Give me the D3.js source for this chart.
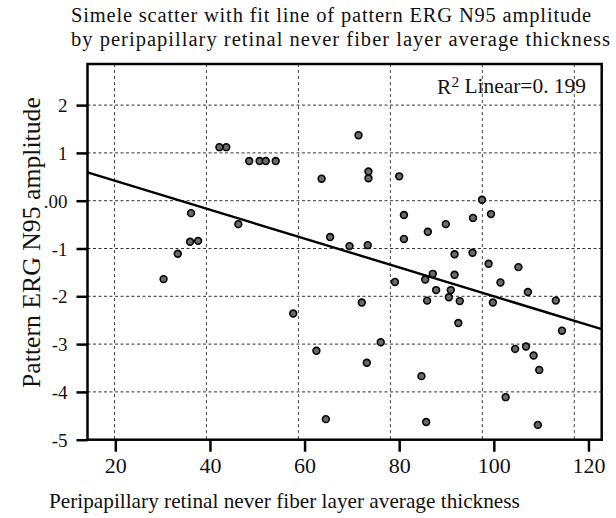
<!DOCTYPE html>
<html>
<head>
<meta charset="utf-8">
<script src="https://cdn.jsdelivr.net/npm/d3@7"></script>
<style>
  html, body { margin: 0; padding: 0; background: #fff; }
  svg { display: block; }
  text { font-family: "Liberation Serif", "Times New Roman", Times, serif; fill: #111; }
</style>
</head>
<body>
<svg id="chart" width="616" height="518"></svg>
<script>
// ---- data ----
const thickness = [30.2, 33.2, 35.8, 37.5, 36.0, 42.0, 43.45, 46.0, 48.3, 50.5,
  51.8, 53.9, 57.6, 62.5, 63.6, 64.5, 65.4, 69.5, 71.4, 72.1,
  73.35, 73.15, 73.5, 73.5, 76.1, 79.1, 80.0, 81.0, 81.0, 84.7,
  85.5, 85.7, 85.9, 86.05, 87.1, 87.8, 89.85, 90.5, 90.9, 91.7,
  91.7, 92.5, 92.8, 95.5, 95.6, 97.5, 98.9, 99.4, 99.8, 101.4,
  102.5, 104.5, 105.2, 106.8, 107.2, 108.4, 109.3, 109.6, 113.1, 114.4];
const amplitude = [-1.64, -1.11, -0.86, -0.84, -0.26, 1.12, 1.12, -0.49, 0.83, 0.83,
  0.83, 0.83, -2.36, -3.14, 0.46, -4.57, -0.76, -0.95, 1.37, -2.13,
  -0.93, -3.39, 0.61, 0.47, -2.96, -1.70, 0.51, -0.30, -0.80, -3.67,
  -1.65, -4.63, -2.09, -0.65, -1.53, -1.87, -0.49, -2.02, -1.87, -1.12,
  -1.55, -2.56, -2.10, -1.09, -0.36, 0.02, -1.32, -0.28, -2.13, -1.71,
  -4.11, -3.10, -1.39, -3.05, -1.91, -3.24, -4.69, -3.54, -2.09, -2.72];
const fitIntercept = 1.02;
const fitSlope = -0.0302;
const xTicks = [20, 40, 60, 80, 100, 120];
const yTicks = [2, 1, 0, -1, -2, -3, -4, -5];
const yTickLabels = ["2", "1", ".00", "-1", "-2", "-3", "-4", "-5"];
const titleLines = ["Simele scatter with fit line of pattern ERG N95 amplitude",
  "by peripapillary retinal never fiber layer average thickness"];
const xTitle = "Peripapillary retinal never fiber layer average thickness";
const yTitle = "Pattern ERG N95 amplitude";
const r2Value = "0. 199";

// ---- layout ----
const svg = d3.select("#chart");
const pLeft = 87.5, pRight = 601.7, pTop = 64, pBottom = 439.7;
const x = d3.scaleLinear().domain([14.12, 122.8]).range([pLeft, pRight]);
const y = d3.scaleLinear().domain([-5, 2.86]).range([pBottom, pTop]);
// the reference's vertical grid is drawn on a slightly compressed scale
const xGrid = d3.scaleLinear().domain([20, 120]).range([114.5, 574.3]);

// size a text so that its rendered length matches a target width
function fitWidth(sel, base, target) {
  sel.style("font-size", base + "px");
  const w = sel.node().getComputedTextLength();
  if (w > 0) sel.style("font-size", (base * target / w).toFixed(2) + "px");
  return sel;
}
// keep a glyph size, spread the letters slightly to reach a target width
function fitSpacing(sel, size, target) {
  sel.style("font-size", size + "px").style("letter-spacing", "0px");
  const w = sel.node().getComputedTextLength();
  const n = sel.text().length;
  if (w > 0 && n > 1) sel.style("letter-spacing", ((target - w) / n).toFixed(3) + "px");
  return sel;
}

// grid
const grid = svg.append("g");
grid.selectAll("line.h").data(yTicks.filter(d => d > -5)).join("line")
  .attr("class", "h")
  .attr("x1", pLeft).attr("x2", pRight)
  .attr("y1", d => y(d)).attr("y2", d => y(d))
  .attr("stroke", "#333").attr("stroke-width", 1).attr("stroke-dasharray", "3,2.5");
grid.selectAll("line.v").data(xTicks).join("line")
  .attr("class", "v")
  .attr("x1", d => xGrid(d)).attr("x2", d => xGrid(d))
  .attr("y1", pTop).attr("y2", pBottom)
  .attr("stroke", "#333").attr("stroke-width", 0.9).attr("stroke-dasharray", "3,3");

// fit line
const xd = x.domain();
svg.append("line")
  .attr("x1", x(xd[0])).attr("y1", y(fitIntercept + fitSlope * xd[0]))
  .attr("x2", x(xd[1])).attr("y2", y(fitIntercept + fitSlope * xd[1]))
  .attr("stroke", "#000").attr("stroke-width", 2.4);

// points
svg.append("g").selectAll("circle").data(thickness).join("circle")
  .attr("cx", d => x(d)).attr("cy", (d, i) => y(amplitude[i]))
  .attr("r", 3.4)
  .attr("fill", "#6a6a6a").attr("stroke", "#000").attr("stroke-width", 1.6);

// frame
svg.append("rect").attr("x", pLeft).attr("y", pTop)
  .attr("width", pRight - pLeft).attr("height", pBottom - pTop)
  .attr("fill", "none").attr("stroke", "#000").attr("stroke-width", 2.5);

// axes
const yAxis = svg.append("g").attr("transform", `translate(${pLeft},0)`)
  .call(d3.axisLeft(y).tickValues(yTicks).tickSize(11).tickPadding(9)
    .tickFormat((d, i) => yTickLabels[i]));
const xAxis = svg.append("g").attr("transform", `translate(0,${pBottom})`)
  .call(d3.axisBottom(x).tickValues(xTicks).tickSize(12).tickPadding(6));
[yAxis, xAxis].forEach(a => {
  a.attr("font-family", null);
  a.select(".domain").remove();
  a.selectAll(".tick line").attr("stroke", "#000").attr("stroke-width", 2.5);
  a.selectAll(".tick text").attr("fill", "#111");
});
yAxis.selectAll(".tick text").style("font-size", "19px").attr("dy", "0.35em");
xAxis.selectAll(".tick text").style("font-size", "22px");

// two-line title
svg.append("g").selectAll("text").data(titleLines).join("text")
  .attr("x", 71).attr("y", (d, i) => 21.5 + i * 24)
  .text(d => d)
  .each(function(d, i) { fitSpacing(d3.select(this), 20.5, i === 0 ? 521 : 540); });

fitWidth(svg.append("text").attr("x", 49).attr("y", 508)
  .text(xTitle), 20, 471);

fitWidth(svg.append("text").attr("transform", "translate(40,388) rotate(-90)")
  .text(yTitle), 21, 291);

const r2 = svg.append("text").attr("x", 586).attr("y", 93.5).attr("text-anchor", "end");
r2.append("tspan").text("R");
r2.append("tspan").attr("dy", "-0.45em").style("font-size", "0.72em").text("2");
r2.append("tspan").attr("dy", "0.32em").text(" Linear=" + r2Value);
fitWidth(r2, 19, 149);
</script>
</body>
</html>
